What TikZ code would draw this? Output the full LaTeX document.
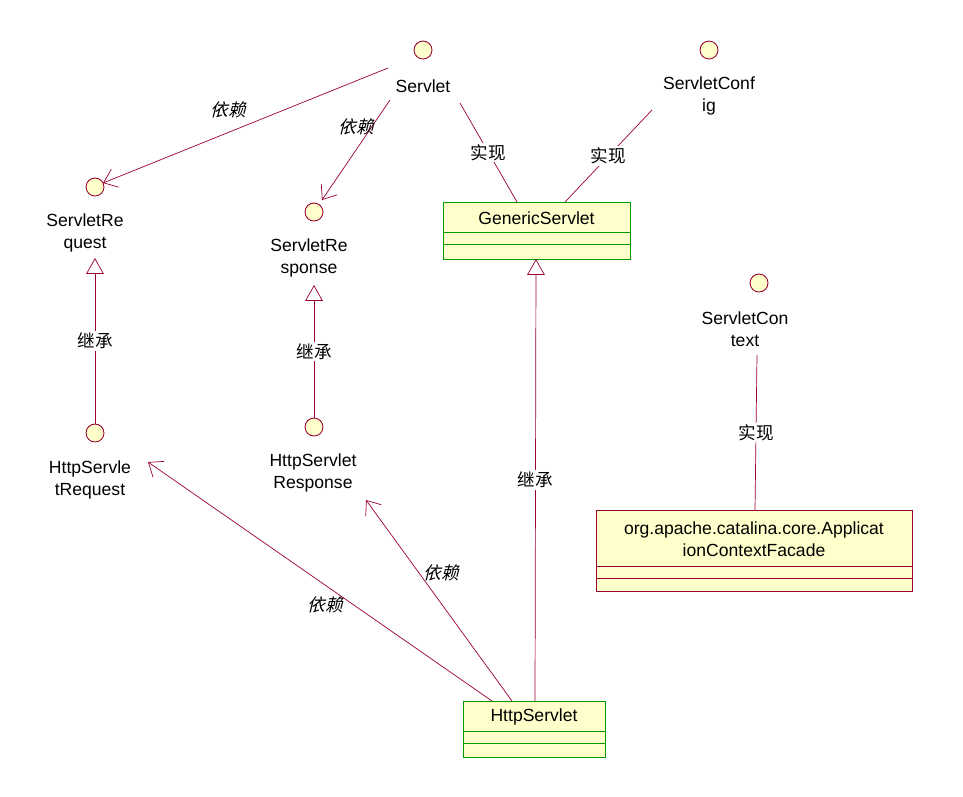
\documentclass[tikz,border=0pt]{standalone}
\usepackage{fontspec}
\setmainfont{Liberation Sans}
\newfontfamily\cjk{Noto Sans CJK SC}
\newfontfamily\cjkit{Noto Sans CJK SC}[FakeSlant=0.25]
\usetikzlibrary{shapes,arrows.meta}
\definecolor{umlred}{HTML}{990033}
\definecolor{umlgreen}{HTML}{009900}
\definecolor{umlfill}{HTML}{FFFFCC}
\tikzset{
  iface/.style={shape=circle,draw=umlred,fill=umlfill,minimum size=0.36cm,inner sep=0pt,line width=0.5pt},
  txt/.style={align=center,font=\fontsize{10}{12.5}\selectfont,inner sep=1pt},
  rel/.style={draw=umlred,line width=0.4pt},
  dep/.style={rel,-{Straight Barb[length=7pt,width=11pt]}},
  inh/.style={rel,-{Triangle[open,length=9pt,width=10pt,fill=white]}},
  lab/.style={font=\cjk\fontsize{10}{12}\selectfont,fill=white,inner sep=1pt},
  ilab/.style={font=\cjkit\fontsize{10}{12}\selectfont,inner sep=1pt}
}
\begin{document}
\begin{tikzpicture}[x=0.02cm,y=-0.02cm]
\useasboundingbox (0,0) rectangle (963,796);
% interfaces
\node[iface] (0) at (423,50) {};
\node[txt] (0t) at (423,86) {Servlet};
\node[iface] (1) at (709,50) {};
\node[txt] (1t) at (709,96) {ServletConf\\ig};
\node[iface] (2) at (95,187) {};
\node[txt] (2t) at (85,233) {ServletRe\\quest};
\node[iface] (3) at (314,212) {};
\node[txt] (3t) at (309,258) {ServletRe\\sponse};
\node[iface] (4) at (759,283) {};
\node[txt] (4t) at (745,329) {ServletCon\\text};
\node[iface] (5) at (95,433) {};
\node[txt] (5t) at (90,480) {HttpServle\\tRequest};
\node[iface] (6) at (314,427) {};
\node[txt] (6t) at (313,473) {HttpServlet\\Response};

% classes
\draw[umlgreen,fill=umlfill,line width=0.4pt] (443,202) rectangle (630,259) (443,232) -- (630,232) (443,244) -- (630,244);
\node[txt] (7) at (536.5,218) {GenericServlet};
\draw[umlgreen,fill=umlfill,line width=0.4pt] (463,701) rectangle (605,757) (463,731) -- (605,731) (463,743) -- (605,743);
\node[txt] (8) at (534,717) {HttpServlet};
\draw[umlred,fill=umlfill,line width=0.4pt] (596,510) rectangle (912,591) (596,566) -- (912,566) (596,578) -- (912,578);
\node[txt] (9) at (754,539) {org.apache.catalina.core.Applicat\\ionContextFacade};
\coordinate (7a) at (517,202);
\coordinate (7b) at (565,202);
\coordinate (7c) at (536,259);
\coordinate (8a) at (492,701);
\coordinate (8b) at (512,701);
\coordinate (8c) at (535,701);
\coordinate (9a) at (755,510);

% relations
\path[dep] (388,68) -- (103,183);
\node[ilab] at (228,110) {依赖};
\path[dep] (390,100) -- (322,200);
\node[ilab] at (356,127) {依赖};
\path[rel] (460,103) -- node[lab,pos=0.5] {实现} (7a);
\path[rel] (652,110) -- node[lab,pos=0.5] {实现} (7b);
\path[rel] (757,355) -- node[lab,pos=0.5] {实现} (9a);
\path[inh] (5) -- node[lab,pos=0.5] {继承} (95,258);
\path[inh] (6) -- node[lab,pos=0.5] {继承} (314,285);
\path[inh] (8c) -- node[lab,pos=0.5] {继承} (7c);
\path[dep] (8a) -- (148,462);
\node[ilab] at (325,605) {依赖};
\path[dep] (8b) -- (366,500);
\node[ilab] at (441,573) {依赖};
\end{tikzpicture}
\end{document}
